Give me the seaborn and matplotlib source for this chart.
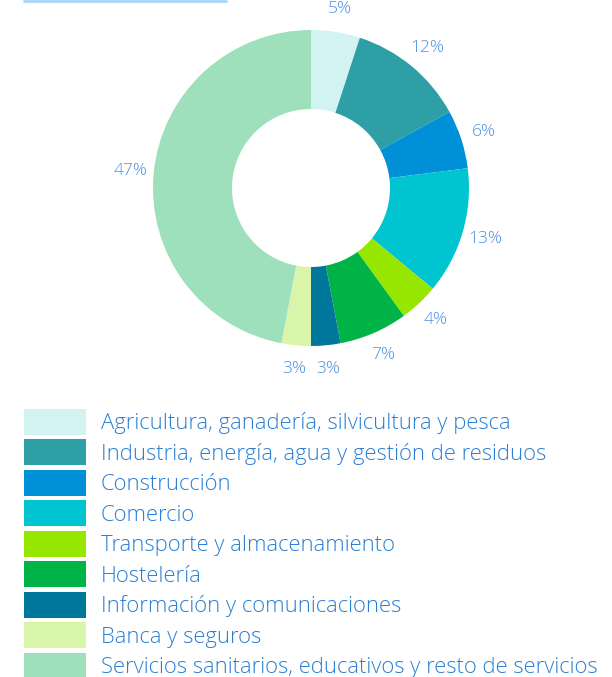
import matplotlib
matplotlib.use("Agg")
import matplotlib.pyplot as plt
import seaborn as sns
from matplotlib.patches import Patch
from matplotlib.lines import Line2D

categories = [
    "Agricultura, ganadería, silvicultura y pesca",
    "Industria, energía, agua y gestión de residuos",
    "Construcción",
    "Comercio",
    "Transporte y almacenamiento",
    "Hostelería",
    "Información y comunicaciones",
    "Banca y seguros",
    "Servicios sanitarios, educativos y resto de servicios",
]
values = [5, 12, 6, 13, 4, 7, 3, 3, 47]
colors = ["#d3f3f3", "#2e9fa5", "#0090d8", "#00c4cf", "#96e600",
          "#00b347", "#00789c", "#d8f5aa", "#9ee0bc"]

sns.set_theme(style="white")
plt.rcParams['font.family'] = ['Open Sans', 'DejaVu Sans']

W, H = 612, 677
fig = plt.figure(figsize=(W / 100, H / 100), dpi=100)

cx, cy, R = 311, 188, 158
half = 200
ax = fig.add_axes([(cx - half) / W, (H - cy - half) / H, 2 * half / W, 2 * half / H])
wedges, texts = ax.pie(
    values, colors=colors, startangle=90, counterclock=False,
    labels=[f"{v}%" for v in values], labeldistance=1.15,
    wedgeprops=dict(width=0.5, linewidth=0),
    textprops=dict(color="#4a90e2", fontsize=12.5, fontweight="light"),
)
for t in texts:
    t.set_ha("center")
    t.set_va("center")
lim = half / R
ax.set_xlim(-lim, lim)
ax.set_ylim(-lim, lim)
ax.set_aspect("equal")
ax.axis("off")

# top decorative line
fig.add_artist(Line2D([24 / W, 226 / W], [1 - 1 / H, 1 - 1 / H], color="#a8d4f5",
                      linewidth=2, transform=fig.transFigure))

handles = [Patch(facecolor=c, edgecolor="none") for c in colors]
fs = 15.8
px = fs * 100 / 72
leg = fig.legend(handles, categories, loc="upper left",
                 bbox_to_anchor=(24 / W, 1 - 409 / H), frameon=False,
                 handlelength=62 / px, handleheight=26 / (px * 0.83),
                 labelspacing=4.75 / px, handletextpad=15 / px, borderpad=0,
                 borderaxespad=0, prop=dict(size=fs, weight="light"))
for t in leg.get_texts():
    t.set_color("#2a7fd4")

fig.savefig("out.png", dpi=100)
